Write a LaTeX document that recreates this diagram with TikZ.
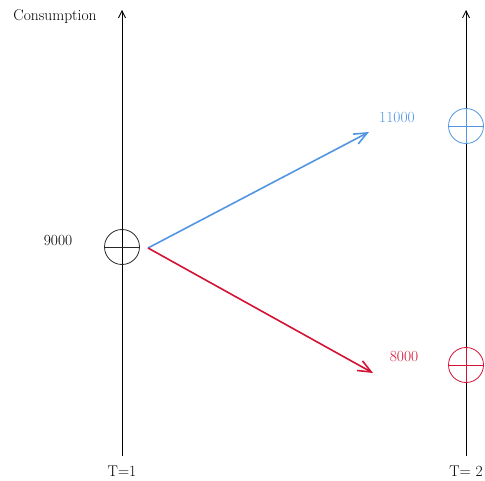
\documentclass[tikz,border=0pt]{standalone}
\usepackage{tikz}
\usetikzlibrary{arrows.meta, positioning}
\usepackage{xcolor}
\definecolor{upblue}{RGB}{82,150,226}
\definecolor{downred}{RGB}{212,18,52}
\definecolor{darkgray}{RGB}{40,40,40}

\begin{document}
\begin{tikzpicture}[
    x=1pt, y=-1pt,
    every node/.style={font=\fontsize{15.5}{18}\selectfont},
    axis/.style={-{Straight Barb[length=7pt, width=7pt]}, line width=0.8pt},
    state/.style={circle, draw, line width=0.8pt, minimum size=35pt, inner sep=0pt},
    move/.style={-{Straight Barb[length=13pt, width=11pt, line width=1.6pt]}, line width=1.6pt}
  ]
  \useasboundingbox (0,0) rectangle (485,481);

  % time axes
  \coordinate (b1) at (122,456);
  \coordinate (t1) at (122,10);
  \coordinate (b2) at (466,456);
  \coordinate (t2) at (466,10);
  \draw[axis] (b1) -- (t1);
  \draw[axis] (b2) -- (t2);

  \node[below=6pt of b1] (lab1) {T=1};
  \node[below=6pt of b2] (lab2) {T= 2};
  \node (cons) at (55,17) {Consumption};

  % states
  \node[state, darkgray] (now) at (122,247) {};
  \draw[darkgray, line width=0.8pt] (now.west) -- (now.east);
  \node[state, upblue] (high) at (466,126) {};
  \draw[upblue, line width=0.8pt] (high.west) -- (high.east) (high.north) -- (high.south);
  \node[state, downred] (low) at (466,365) {};
  \draw[downred, line width=0.8pt] (low.west) -- (low.east) (low.north) -- (low.south);

  \node (v0) at (58,241) {9000};
  \node[upblue] (v1) at (397,118) {11000};
  \node[downred] (v2) at (404,357) {8000};

  % moves
  \coordinate (start) at (148,248);
  \coordinate (uend) at (369,132);
  \coordinate (dend) at (373,373);
  \draw[move, upblue] (start) -- (uend);
  \draw[move, downred] (start) -- (dend);

\end{tikzpicture}
\end{document}
